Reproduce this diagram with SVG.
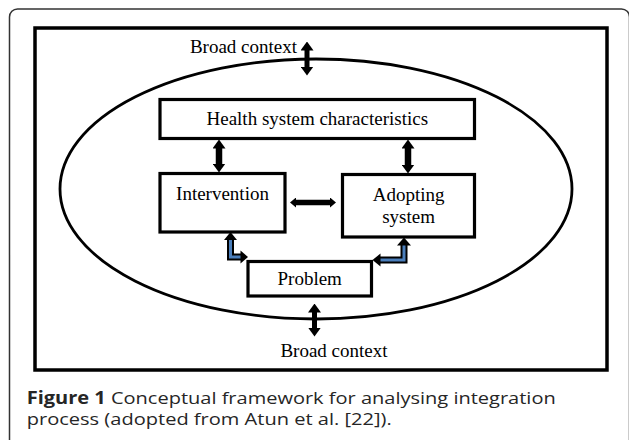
<svg xmlns="http://www.w3.org/2000/svg" width="629" height="440" viewBox="0 0 629 440">
  <style>
    .box { fill: #ffffff; stroke: #000000; stroke-width: 3.2; }
    .lbl { font-family: "Liberation Serif", "Times New Roman", serif; font-size: 19px; fill: #000000; text-anchor: middle; }
    .cap { font-family: "Open Sans", "Liberation Sans", sans-serif; font-size: 17px; fill: #262626; }
    .dbl { stroke: #000000; stroke-width: 5; fill: none; marker-start: url(#ah); marker-end: url(#ah); }
    .dblw { stroke: #000000; stroke-width: 6.5; fill: none; marker-start: url(#ah); marker-end: url(#ah); }
    .dbls { stroke: #000000; stroke-width: 5.5; fill: none; marker-start: url(#ahs); marker-end: url(#ahs); }
    .elb-out { fill: none; stroke: #000000; stroke-width: 7; stroke-linejoin: miter; }
    .elb-in { fill: none; stroke: #4a7ebb; stroke-width: 3; stroke-linejoin: miter; }
    .head { fill: #000000; }
  </style>
  <defs>
    <marker id="ah" markerUnits="userSpaceOnUse" markerWidth="9" markerHeight="13" refX="0.5" refY="6.5" orient="auto-start-reverse">
      <path d="M0,0 L9,6.5 L0,13 z" fill="#000000"/>
    </marker>
    <marker id="ahs" markerUnits="userSpaceOnUse" markerWidth="6" markerHeight="10" refX="0.5" refY="5" orient="auto-start-reverse">
      <path d="M0,0 L6,5 L0,10 z" fill="#000000"/>
    </marker>
  </defs>

  <!-- outer panel frame -->
  <rect x="9.5" y="9" width="620" height="445" rx="8" ry="8" fill="#ffffff" stroke="#333333" stroke-width="1.5"/>

  <!-- inner frame -->
  <rect x="35" y="28" width="572" height="342" fill="none" stroke="#000000" stroke-width="3.5"/>

  <!-- context ellipse -->
  <ellipse cx="316" cy="189" rx="256" ry="130" fill="none" stroke="#000000" stroke-width="2.8"/>

  <g id="broad-context-top">
    <text class="lbl" x="243.5" y="53">Broad context</text>
  </g>

  <g id="health-system">
    <rect class="box" x="160" y="99.5" width="314.5" height="39"/>
    <text class="lbl" x="317.3" y="124.5">Health system characteristics</text>
  </g>

  <g id="intervention">
    <rect class="box" x="160" y="173.5" width="125" height="58.5"/>
    <text class="lbl" x="222.5" y="200">Intervention</text>
  </g>

  <g id="adopting-system">
    <rect class="box" x="342.5" y="174.5" width="132" height="62.5"/>
    <text class="lbl" x="408.6" y="201">Adopting</text>
    <text class="lbl" x="408.6" y="222.5">system</text>
  </g>

  <g id="problem">
    <rect class="box" x="248" y="261.5" width="123.5" height="34.5"/>
    <text class="lbl" x="309.7" y="284.5">Problem</text>
  </g>

  <g id="broad-context-bottom">
    <text class="lbl" x="334" y="357">Broad context</text>
  </g>

  <g id="connectors">
    <!-- broad context (top) <-> ellipse -->
    <line class="dbl" x1="307" y1="50" x2="307" y2="67"/>
    <!-- health <-> intervention -->
    <line class="dblw" x1="219" y1="148" x2="219" y2="164"/>
    <!-- health <-> adopting -->
    <line class="dblw" x1="408" y1="148" x2="408" y2="165"/>
    <!-- intervention <-> adopting -->
    <line class="dbls" x1="295.5" y1="202.5" x2="330.5" y2="202.5"/>
    <!-- ellipse <-> broad context (bottom) -->
    <line class="dbl" x1="314.5" y1="312" x2="314.5" y2="328"/>

    <!-- problem <-> intervention (blue elbow) -->
    <path class="elb-out" d="M230.5,240 L230.5,257 L241,257"/>
    <path class="elb-in" d="M230.5,240 L230.5,257 L241,257"/>
    <polygon class="head" points="224,240 230.5,232 237,240"/>
    <polygon class="head" points="240.5,250.5 248,257 240.5,263.5"/>

    <!-- problem <-> adopting (blue elbow) -->
    <path class="elb-out" d="M380,260 L404,260 L404,245"/>
    <path class="elb-in" d="M380,260 L404,260 L404,245"/>
    <polygon class="head" points="397,245.5 404,237.5 411,245.5"/>
    <polygon class="head" points="380.5,253.5 372.5,260 380.5,266.5"/>
  </g>

  <!-- caption -->
  <text class="cap" x="26.7" y="404" textLength="529" lengthAdjust="spacingAndGlyphs"><tspan font-weight="bold">Figure 1</tspan> Conceptual framework for analysing integration</text>
  <text class="cap" x="26.7" y="425" textLength="365" lengthAdjust="spacingAndGlyphs">process (adopted from Atun et al. [22]).</text>
</svg>
